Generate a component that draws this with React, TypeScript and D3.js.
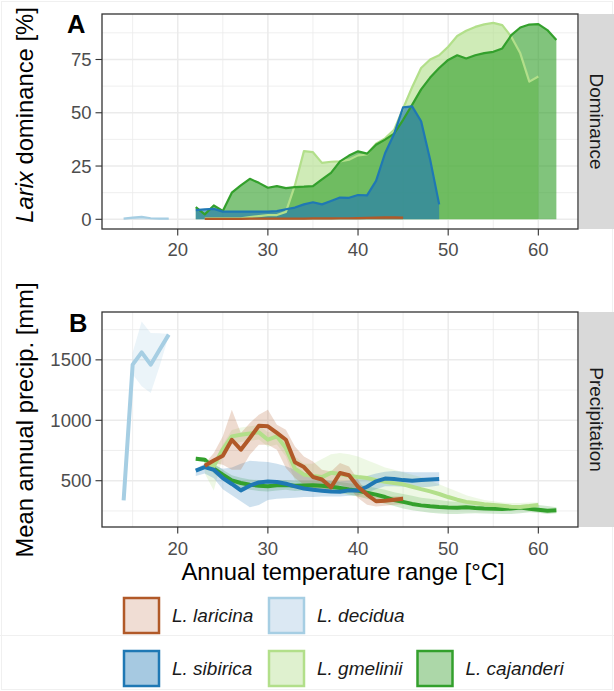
import React from 'react';
import * as d3 from 'd3';

const W = 614;
const H = 691;
const FONT = '"Liberation Sans", Arial, Helvetica, sans-serif';

// ---- temperature (x) values per species ----
const tLaricina = [23,24,25,26,27,28,29,30,31,32,33,34,35,36,37,38,39,40,41,42,43,44,45];
const tDecidua = [14,15,16,17,18,19];
const tSibirica = [22,23,24,25,26,27,28,29,30,31,32,33,34,35,36,37,38,39,40,41,42,43,44,45,46,47,48,49];
const tGmelinii = [23,24,25,26,27,28,29,30,31,32,33,34,35,36,37,38,39,40,41,42,43,44,45,46,47,48,49,50,51,52,53,54,55,56,57,58,59,60];
const tCajanderi = [22,23,24,25,26,27,28,29,30,31,32,33,34,35,36,37,38,39,40,41,42,43,44,45,46,47,48,49,50,51,52,53,54,55,56,57,58,59,60,61,62];

// ---- Panel A: Larix dominance [%] ----
const domLaricina = [0.2,0.2,0.2,0.2,0.2,0.3,0.3,0.3,0.3,0.3,0.3,0.3,0.4,0.4,0.4,0.5,0.5,0.6,0.7,0.8,0.9,0.9,0.8];
const domDecidua = [0.3,0.8,1.2,0.5,0.3,0.3];
const domSibirica = [4.3,4.7,4.9,3.6,3.6,3.6,3.6,3.6,3.6,3.9,4.7,5.5,7,8,7,8.6,10.2,10.1,11.4,11.2,18,31,40,52.5,53,46,28,7];
const domGmelinii = [0.5,0.5,0.5,0.5,0.5,1,1.5,2,2,3.5,16,32,31.5,26.5,27,27.2,28,30,30.5,35.5,38,42,52,62,71,75,77,81,86,88.5,90.3,91.5,92.2,91.1,85.7,77.9,64.6,67];
const domCajanderi = [5.7,2.3,6.5,3.9,12.5,15.9,19,17.1,14.8,15.6,14.6,15.1,15.3,15.6,18.7,21.8,27.2,29.9,31.9,30.8,35,37.4,40.2,46.7,53.7,61,66.5,71,74.8,77,75.5,77,78,78.6,80.2,86.4,90,91.4,91.6,88.8,84.1];

// ---- Panel B: Mean annual precipitation [mm] (mean, lower, upper) ----
const precLaricina = [624,668,707,839,757,853,955,950,895,839,652,613,531,510,445,564,545,450,385,330,335,343,350];
const precLaricinaLo = [610,646,632,591,591,715,798,798,757,605,522,467,440,425,411,467,440,357,301,287,292,301,305];
const precLaricinaHi = [640,729,867,1088,895,978,1046,1088,964,922,784,701,660,591,577,646,618,508,400,370,370,370,372];

const precDecidua = [337,1460,1562,1460,1585,1709];
const precDeciduaLo = [330,1380,1281,1226,1450,1700];
const precDeciduaHi = [345,1560,1818,1722,1720,1715];

const precSibirica = [583,613,591,522,473,420,459,486,494,490,475,453,436,425,417,410,408,420,418,450,495,518,515,505,500,505,510,515];
const precSibiricaLo = [540,560,520,430,380,330,280,300,340,350,355,360,365,365,370,370,370,375,380,400,430,455,455,450,445,445,450,460];
const precSibiricaHi = [600,640,630,600,610,640,665,660,655,640,620,590,560,530,510,500,495,500,520,540,560,575,580,575,570,570,570,570];

const precGmelinii = [640,620,760,867,880,890,900,839,867,770,600,550,540,530,565,555,540,530,522,505,492,480,470,450,430,412,390,365,343,325,315,305,300,292,285,282,290,300];
const precGmeliniiLo = [560,420,700,800,820,830,840,780,800,700,500,440,420,400,410,400,380,370,370,360,350,340,330,320,310,300,290,280,280,275,270,265,265,260,255,255,260,270];
const precGmeliniiHi = [680,650,800,920,940,950,960,900,920,830,700,640,640,680,720,730,720,700,670,640,610,590,570,550,530,500,470,440,410,380,360,340,330,320,315,315,320,320];

const precCajanderi = [682,674,600,550,503,481,467,459,455,462,465,458,460,462,458,450,440,428,418,400,385,365,340,325,308,296,288,282,278,276,280,274,270,268,266,270,278,268,260,252,256];
const precCajanderiLo = [665,655,560,505,460,440,425,415,410,420,425,415,418,420,415,410,400,385,370,350,330,310,290,270,255,245,235,228,225,225,228,230,228,226,225,224,230,240,235,225,230];
const precCajanderiHi = [700,690,640,590,545,525,510,505,500,505,505,500,500,500,498,495,490,480,470,455,440,425,405,390,375,360,350,340,330,325,320,315,310,305,300,298,300,305,300,290,280];

// ---- ticks / labels ----
const xTicks = [20, 30, 40, 50, 60];
const xMinor = [15, 25, 35, 45, 55];
const yTicksA = [0, 25, 50, 75];
const yMinorA = [12.5, 37.5, 62.5, 87.5];
const yTicksB = [500, 1000, 1500];
const yMinorB = [250, 750, 1250, 1750];

const speciesNames = ['L. laricina', 'L. decidua', 'L. sibirica', 'L. gmelinii', 'L. cajanderi'];
const lineColors = ['#b15928', '#a6cee3', '#1f78b4', '#b2df8a', '#33a02c'];
const legendFills = ['#f0ddd4', '#dbe8f3', '#a6c9e1', '#dff1cf', '#acd7a8'];

type Series = { t: number[]; v: number[]; lo?: number[]; hi?: number[]; color: string };

export default function App() {
  const pL = 102, pR = 578;
  const aT = 14, aB = 229;
  const bT = 312, bB = 527;
  const stripR = 614;

  const x = d3.scaleLinear().domain([11.6, 64.4]).range([pL, pR]);
  const yA = d3.scaleLinear().domain([-4.55, 96.35]).range([aB, aT]);
  const yB = d3.scaleLinear().domain([117, 1896]).range([bB, bT]);

  // Panel A: drawing order (bottom → top)
  const domSeries: Series[] = [
    { t: tGmelinii, v: domGmelinii, color: lineColors[3] },
    { t: tCajanderi, v: domCajanderi, color: lineColors[4] },
    { t: tSibirica, v: domSibirica, color: lineColors[2] },
    { t: tDecidua, v: domDecidua, color: lineColors[1] },
    { t: tLaricina, v: domLaricina, color: lineColors[0] },
  ];
  const precSeries: Series[] = [
    { t: tCajanderi, v: precCajanderi, lo: precCajanderiLo, hi: precCajanderiHi, color: lineColors[4] },
    { t: tGmelinii, v: precGmelinii, lo: precGmeliniiLo, hi: precGmeliniiHi, color: lineColors[3] },
    { t: tSibirica, v: precSibirica, lo: precSibiricaLo, hi: precSibiricaHi, color: lineColors[2] },
    { t: tDecidua, v: precDecidua, lo: precDeciduaLo, hi: precDeciduaHi, color: lineColors[1] },
    { t: tLaricina, v: precLaricina, lo: precLaricinaLo, hi: precLaricinaHi, color: lineColors[0] },
  ];

  const areaA = (s: Series) =>
    d3.area<number>().x((_, i) => x(s.t[i])).y0(yA(0)).y1((d) => yA(d))(s.v) || '';
  const lineA = (s: Series) =>
    d3.line<number>().x((_, i) => x(s.t[i])).y((d) => yA(d))(s.v) || '';
  const ribbonB = (s: Series) =>
    d3.area<number>().x((_, i) => x(s.t[i])).y0((_, i) => yB(s.lo![i])).y1((d) => yB(d))(s.hi!) || '';
  const lineB = (s: Series) =>
    d3.line<number>().x((_, i) => x(s.t[i])).y((d) => yB(d))(s.v) || '';

  const tickCol = '#4d4d4d';
  const grid = '#ebebeb';

  const panelGrid = (top: number, bottom: number, ys: d3.ScaleLinear<number, number>, major: number[], minor: number[]) => (
    <g>
      {minor.map((v) => (
        <line key={'ym' + v} x1={pL} x2={pR} y1={ys(v)} y2={ys(v)} stroke={grid} strokeWidth={0.8} />
      ))}
      {xMinor.map((v) => (
        <line key={'xm' + v} x1={x(v)} x2={x(v)} y1={top} y2={bottom} stroke={grid} strokeWidth={0.8} />
      ))}
      {major.map((v) => (
        <line key={'yM' + v} x1={pL} x2={pR} y1={ys(v)} y2={ys(v)} stroke={grid} strokeWidth={1.5} />
      ))}
      {xTicks.map((v) => (
        <line key={'xM' + v} x1={x(v)} x2={x(v)} y1={top} y2={bottom} stroke={grid} strokeWidth={1.5} />
      ))}
    </g>
  );

  const axes = (top: number, bottom: number, ys: d3.ScaleLinear<number, number>, major: number[], labelBase: number) => (
    <g fontFamily={FONT}>
      {major.map((v) => (
        <g key={'yt' + v}>
          <line x1={pL - 6.5} x2={pL} y1={ys(v)} y2={ys(v)} stroke="#333333" strokeWidth={1.1} />
          <text x={pL - 10.5} y={ys(v)} dy="0.35em" textAnchor="end" fontSize={18.5} fill={tickCol}>{v}</text>
        </g>
      ))}
      {xTicks.map((v) => (
        <g key={'xt' + v}>
          <line x1={x(v)} x2={x(v)} y1={bottom} y2={bottom + 6.5} stroke="#333333" strokeWidth={1.1} />
          <text x={x(v)} y={labelBase} textAnchor="middle" fontSize={18.5} fill={tickCol}>{v}</text>
        </g>
      ))}
      <rect x={pL} y={top} width={pR - pL} height={bottom - top} fill="none" stroke="#333333" strokeWidth={1.3} />
    </g>
  );

  return (
    <svg width={W} height={H} viewBox={`0 0 ${W} ${H}`} style={{ position: 'absolute', left: 0, top: 0, background: '#fff' }} fontFamily={FONT}>
      <rect x={0} y={0} width={W} height={H} fill="#ffffff" />
      <rect x={1.5} y={1.5} width={W - 3} height={H - 3} fill="none" stroke="#f0f0f0" strokeWidth={1} />
      <line x1={0} x2={W} y1={635.5} y2={635.5} stroke="#f0f0f0" strokeWidth={1} />

      {/* Panel A */}
      <rect x={pL} y={aT} width={pR - pL} height={aB - aT} fill="#ffffff" />
      {panelGrid(aT, aB, yA, yTicksA, yMinorA)}
      {domSeries.map((s, i) => (
        <path key={'aa' + i} d={areaA(s)} fill={s.color} fillOpacity={0.62} stroke="none" />
      ))}
      {domSeries.map((s, i) => (
        <path key={'al' + i} d={lineA(s)} fill="none" stroke={s.color} strokeWidth={2.2} strokeLinejoin="round" />
      ))}
      {axes(aT, aB, yA, yTicksA, 256)}
      <rect x={pR + 1} y={aT} width={stripR - pR - 1} height={aB - aT} fill="#d9d9d9" />
      <text transform={`translate(597, ${(aT + aB) / 2}) rotate(90)`} dy="0.35em" textAnchor="middle" fontSize={19} fill="#1a1a1a">Dominance</text>
      <text x={67} y={33} fontSize={25.5} fontWeight="bold" fill="#000">A</text>
      <text transform={`translate(33, 115) rotate(-90)`} textAnchor="middle" fontSize={23.8} fill="#000">
        <tspan fontStyle="italic">Larix</tspan> dominance [%]
      </text>

      {/* Panel B */}
      <rect x={pL} y={bT} width={pR - pL} height={bB - bT} fill="#ffffff" />
      {panelGrid(bT, bB, yB, yTicksB, yMinorB)}
      {precSeries.map((s, i) => (
        <path key={'br' + i} d={ribbonB(s)} fill={s.color} fillOpacity={0.22} stroke="none" />
      ))}
      {precSeries.map((s, i) => (
        <path key={'bl' + i} d={lineB(s)} fill="none" stroke={s.color} strokeWidth={4} strokeLinejoin="round" />
      ))}
      {axes(bT, bB, yB, yTicksB, 555)}
      <rect x={pR + 1} y={bT} width={stripR - pR - 1} height={bB - bT} fill="#d9d9d9" />
      <text transform={`translate(597, ${(bT + bB) / 2}) rotate(90)`} dy="0.35em" textAnchor="middle" fontSize={19} fill="#1a1a1a">Precipitation</text>
      <text x={69} y={331.5} fontSize={25.5} fontWeight="bold" fill="#000">B</text>
      <text transform={`translate(33, 420) rotate(-90)`} textAnchor="middle" fontSize={23.8} fill="#000">Mean annual precip. [mm]</text>

      <text x={343} y={580} textAnchor="middle" fontSize={23.8} fill="#000">Annual temperature range [°C]</text>

      {/* Legend */}
      {[
        { i: 0, bx: 124, by: 598 },
        { i: 1, bx: 269, by: 598 },
        { i: 2, bx: 124, by: 651 },
        { i: 3, bx: 269, by: 651 },
        { i: 4, bx: 417.5, by: 651 },
      ].map(({ i, bx, by }) => (
        <g key={'lg' + i}>
          <rect x={bx} y={by} width={35} height={35} fill={legendFills[i]} stroke={lineColors[i]} strokeWidth={2.5} />
          <text x={bx + 48} y={by + 17.5} dy="0.36em" fontSize={19} fontStyle="italic" fill="#1a1a1a">{speciesNames[i]}</text>
        </g>
      ))}
    </svg>
  );
}
